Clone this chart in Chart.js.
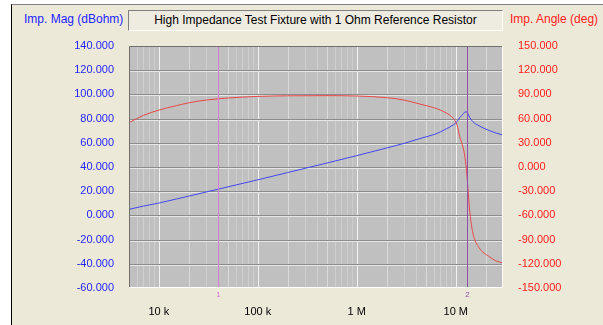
<!DOCTYPE html>
<html>
<head>
<meta charset="utf-8">
<script src="https://cdn.jsdelivr.net/npm/chart.js@4/dist/chart.umd.min.js"></script>
<style>
  body { margin: 0; background: #fff; }
  #wrap { position: relative; width: 603px; height: 325px; overflow: hidden; }
  #panel { position: absolute; left: 11px; top: 4px; right: -2px; bottom: -2px;
           background: #ECE9D8; border-left: 1px solid #000; border-top: 1px solid #808080; }
  #titlebox { position: absolute; left: 128px; top: 10px; width: 373px; height: 19px;
              border-top: 1px solid #808080; border-left: 1px solid #808080;
              border-bottom: 1px solid #fff; border-right: 1px solid #fff;
              background: #EEEBE0; font: 12px "Liberation Sans", Arial, sans-serif;
              color: #000; text-align: center; line-height: 18px; }
  .axt { position: absolute; top: 11px; font: 12px "Liberation Sans", Arial, sans-serif; line-height: 16px; }
  canvas { position: absolute; left: 0; top: 0; }
</style>
</head>
<body>
<div id="wrap">
  <div id="panel"></div>
  <div id="titlebox">High Impedance Test Fixture with 1 Ohm Reference Resistor</div>
  <div class="axt" style="left:24px;color:#2424FF">Imp. Mag (dBohm)</div>
  <div class="axt" style="left:510px;color:#FF2020">Imp. Angle (deg)</div>
  <canvas id="chart" width="603" height="325"></canvas>
</div>
<script>
// frequency points (Hz)
const freqs = [5e3, 7e3, 1e4, 1.5e4, 2e4, 3e4, 5e4, 1e5, 2e5, 5e5, 1e6, 2e6, 3e6, 4.35e6, 6e6, 7e6, 8e6,
  9.4e6, 10.3e6, 11e6, 11.8e6, 12.4e6, 13e6, 13.3e6, 13.9e6, 14.9e6, 17.2e6, 21.7e6, 25e6, 30e6];
// impedance magnitude, dBohm
const magDb = [5.0, 7.7, 10.2, 13.5, 15.9, 19.3, 23.6, 29.4, 35.4, 43.3, 49.4, 55.7, 59.5, 63.5, 66.8, 69.0, 71.5,
  74.7, 77.5, 81.0, 83.5, 85.5, 85.5, 83.8, 80.6, 77.4, 74.0, 70.2, 68.3, 66.4];
// impedance angle, deg
const angleDeg = [55, 64, 70.5, 76, 79.5, 83, 85.5, 87.5, 88.3, 88.5, 88, 86, 83, 78, 73.5, 70.5, 67,
  60.5, 52, 37, 25, 12, -12, -28.5, -57, -82, -100, -111, -116, -119];

const xTicks = [1e4, 1e5, 1e6, 1e7];
const xTickLabels = ['10 k', '100 k', '1 M', '10 M'];
const markerFreqs = [4e4, 13e6];
const markerLabels = ['1', '2'];
const markerColors = ['#D878D8', '#9050A8'];

const FONT = '"Liberation Sans", Arial, sans-serif';

const plotBg = {
  id: 'plotBg',
  beforeDatasetsDraw(chart) {
    const { ctx, chartArea: a, scales } = chart;
    ctx.save();
    ctx.fillStyle = '#C0C0C0';
    ctx.fillRect(a.left, a.top, a.right - a.left, a.bottom - a.top);
    // vertical log grid
    for (let d = 1e3; d <= 1e7; d *= 10) {
      for (let m = 1; m <= 9; m++) {
        const v = d * m;
        if (v <= scales.x.min || v >= scales.x.max) continue;
        const px = Math.round(scales.x.getPixelForValue(v)) + 0.5;
        ctx.strokeStyle = m === 1 ? '#F2F2F2' : (m === 2 || m === 5 ? '#DADADA' : '#CECECE');
        ctx.lineWidth = 1;
        ctx.beginPath(); ctx.moveTo(px, a.top); ctx.lineTo(px, a.bottom); ctx.stroke();
      }
    }
    // horizontal grid
    for (let v = -40; v <= 120; v += 20) {
      const py = Math.round(scales.y.getPixelForValue(v)) + 0.5;
      ctx.strokeStyle = '#8C8C8C';
      ctx.beginPath(); ctx.moveTo(a.left, py); ctx.lineTo(a.right, py); ctx.stroke();
      ctx.strokeStyle = '#E6E6E6';
      ctx.beginPath(); ctx.moveTo(a.left, py + 1); ctx.lineTo(a.right, py + 1); ctx.stroke();
    }
    ctx.restore();
  },
  afterDatasetsDraw(chart) {
    const { ctx, chartArea: a, scales } = chart;
    ctx.save();
    markerFreqs.forEach((f, i) => {
      const px = Math.round(scales.x.getPixelForValue(f)) + 0.5;
      ctx.strokeStyle = markerColors[i];
      ctx.lineWidth = 1;
      ctx.beginPath(); ctx.moveTo(px, a.top); ctx.lineTo(px, a.bottom); ctx.stroke();
      ctx.fillStyle = markerColors[i];
      ctx.font = '8px ' + FONT;
      ctx.textAlign = 'center';
      ctx.textBaseline = 'middle';
      ctx.fillText(markerLabels[i], px, a.bottom + 7);
    });
    // sunken border
    ctx.strokeStyle = '#707070';
    ctx.beginPath();
    ctx.moveTo(a.left + 0.5, a.bottom); ctx.lineTo(a.left + 0.5, a.top + 0.5); ctx.lineTo(a.right, a.top + 0.5);
    ctx.stroke();
    ctx.strokeStyle = '#FFFFFF';
    ctx.beginPath();
    ctx.moveTo(a.right - 0.5, a.top); ctx.lineTo(a.right - 0.5, a.bottom - 0.5); ctx.lineTo(a.left, a.bottom - 0.5);
    ctx.stroke();
    ctx.restore();
  }
};

new Chart(document.getElementById('chart'), {
  type: 'line',
  data: {
    datasets: [
      {
        label: 'Imp. Mag',
        data: freqs.map((f, i) => ({ x: f, y: magDb[i] })),
        borderColor: '#4646F0',
        borderWidth: 1,
        pointRadius: 0,
        cubicInterpolationMode: 'monotone',
        yAxisID: 'y'
      },
      {
        label: 'Imp. Angle',
        data: freqs.map((f, i) => ({ x: f, y: angleDeg[i] })),
        borderColor: '#E84848',
        borderWidth: 1,
        pointRadius: 0,
        cubicInterpolationMode: 'monotone',
        yAxisID: 'y2'
      }
    ]
  },
  options: {
    responsive: false,
    animation: false,
    layout: { padding: { top: 46, left: 0, right: 0, bottom: 0 } },
    plugins: { legend: { display: false }, tooltip: { enabled: false } },
    scales: {
      x: {
        type: 'logarithmic',
        min: 5e3,
        max: 30e6,
        grid: { display: false },
        border: { display: false },
        afterBuildTicks(scale) { scale.ticks = xTicks.map(v => ({ value: v })); },
        afterFit(scale) { scale.height = 37; },
        ticks: {
          autoSkip: false,
          maxRotation: 0,
          padding: 9,
          color: '#000',
          font: { family: FONT, size: 11 },
          callback: (v) => xTickLabels[xTicks.indexOf(v)] || ''
        }
      },
      y: {
        position: 'left',
        min: -60,
        max: 140,
        grid: { display: false },
        border: { display: false },
        afterFit(scale) { scale.width = 129; },
        ticks: {
          stepSize: 20,
          padding: 7,
          color: '#2424FF',
          font: { family: FONT, size: 11 },
          callback: (v) => v.toFixed(3)
        }
      },
      y2: {
        position: 'right',
        min: -150,
        max: 150,
        grid: { display: false },
        border: { display: false },
        afterFit(scale) { scale.width = 100; },
        ticks: {
          stepSize: 30,
          padding: 7,
          color: '#FF2020',
          font: { family: FONT, size: 11 },
          callback: (v) => v.toFixed(3)
        }
      }
    }
  },
  plugins: [plotBg]
});
</script>
</body>
</html>
